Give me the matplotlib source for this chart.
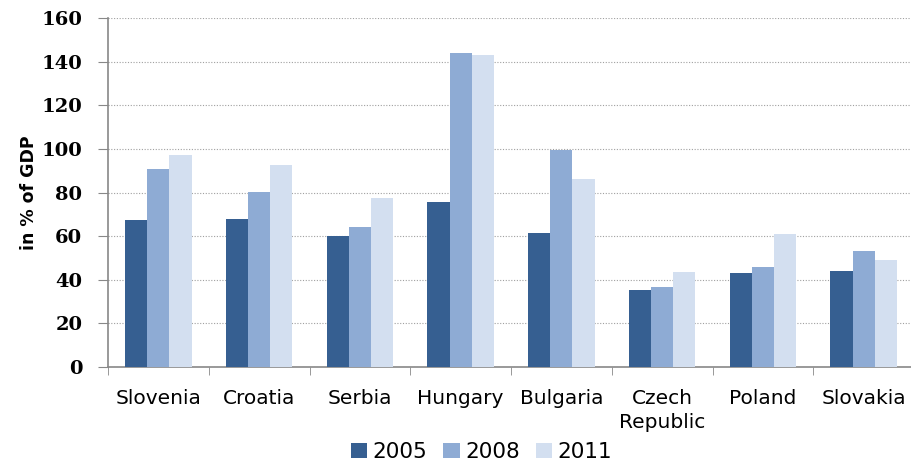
import matplotlib
matplotlib.use("Agg")
import matplotlib.pyplot as plt
import numpy as np
from matplotlib.patches import Patch

countries = ["Slovenia", "Croatia", "Serbia", "Hungary", "Bulgaria", "Czech\nRepublic", "Poland", "Slovakia"]
years = ["2005", "2008", "2011"]
v2005 = [67.4, 68.0, 60.0, 75.6, 61.5, 35.3, 43.0, 44.0]
v2008 = [90.8, 80.4, 64.0, 143.8, 99.5, 36.7, 46.0, 53.2]
v2011 = [97.2, 92.5, 77.5, 143.0, 86.2, 43.6, 61.0, 49.0]
yticks = [0, 20, 40, 60, 80, 100, 120, 140, 160]

colors = ["#365f91", "#8eabd4", "#d3dff0"]

fig = plt.figure(figsize=(9.11, 4.63), dpi=100)
ax = fig.add_axes([108/911, 1-367/463, 806/911, (367-18)/463])

x = np.arange(len(countries))
w = 0.22
for i, (vals, c) in enumerate(zip([v2005, v2008, v2011], colors)):
    ax.bar(x + (i-1)*w, vals, width=w, color=c, edgecolor="none", zorder=3, label=years[i])

ax.set_xlim(-0.5, len(countries)-0.5)
ax.set_ylim(0, 160)
ax.set_yticks(yticks)
ax.set_yticklabels([str(t) for t in yticks], fontfamily="DejaVu Serif", fontweight="bold", fontsize=14)
ax.yaxis.grid(True, linestyle=(0, (1, 1.5)), color="#a0a0a0", linewidth=0.8, zorder=0)
ax.set_xticks(x)
ax.set_xticklabels(countries, fontfamily="DejaVu Sans", fontweight="medium", fontsize=14.5, linespacing=1.35)
ax.set_xticks(np.arange(-0.5, len(countries)), minor=True)
ax.tick_params(axis="x", which="major", length=0, pad=16)
ax.tick_params(axis="x", which="minor", length=6, color="#888888", direction="out")
ax.tick_params(axis="y", length=7, color="#888888", direction="out", pad=11.5)
for s in ["top", "right"]:
    ax.spines[s].set_visible(False)
for s in ["left", "bottom"]:
    ax.spines[s].set_color("#888888")
    ax.spines[s].set_linewidth(1.2)
ax.set_ylabel("in % of GDP", fontsize=12.5, fontweight="bold")
ax.yaxis.set_label_coords(-70/806, 0.5)

handles = [Patch(facecolor=c, edgecolor="none") for c in colors]
fig.legend(handles, years, loc="center", bbox_to_anchor=(0.5285, 1-452/463), ncol=3, frameon=False,
           handlelength=0.75, handleheight=0.75, handletextpad=0.25, columnspacing=0.75,
           prop={"size": 15.5})

fig.savefig("out.png", dpi=100)
